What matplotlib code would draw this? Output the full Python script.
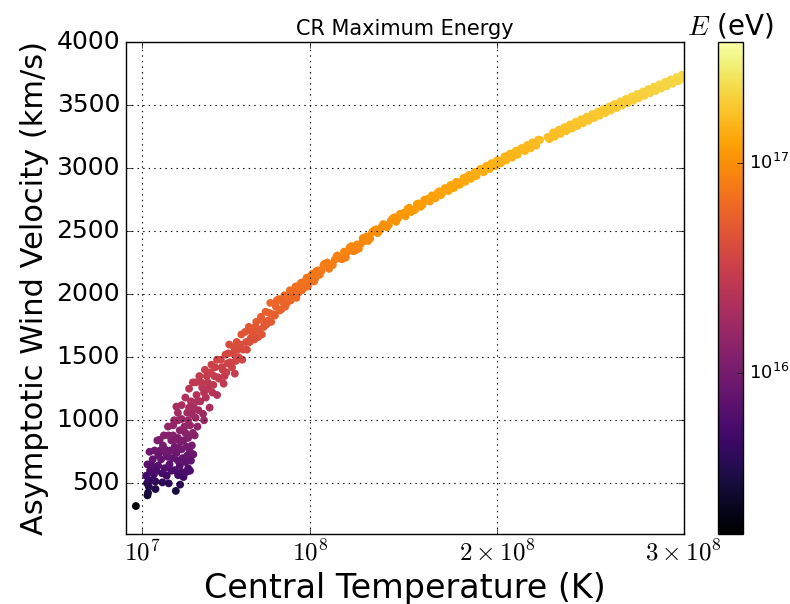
import numpy as np
import matplotlib.pyplot as plt
from matplotlib.colors import LogNorm

plt.style.use('classic')

# Central temperature (units of 1e7 K), wind velocity (km/s) and
# CR maximum energy (units of 1e16 eV) for each model run.

# low-temperature runs, broad scatter
t_low = [0.65,
         1.27, 1.30, 1.25, 1.32, 1.70, 1.70, 2.07, 2.41, 2.79, 3.02,
         1.27, 1.41, 1.61, 1.38, 1.80, 1.92, 1.84, 2.00, 2.20, 2.35,
         2.73, 2.91, 3.10, 3.20, 3.35, 3.45, 3.00, 3.15, 3.55, 1.95, 2.25,
         2.37, 2.82, 2.91, 3.00, 3.20, 3.37, 3.55, 3.73, 2.55, 2.73,
         2.82, 2.64, 2.20, 2.10, 1.55, 1.65, 2.45, 2.60, 2.90, 3.30, 3.60,
         2.90, 3.10, 3.30, 3.45,
         2.70, 2.90, 3.10, 3.10, 3.30, 3.40, 3.50, 3.55, 3.70, 3.75,
         3.85, 3.90, 3.60, 3.80, 3.95, 3.65, 4.00, 4.30, 3.45,
         1.20, 1.35, 1.45, 1.50, 1.75, 1.85, 2.05, 2.15, 2.30, 2.50,
         2.55, 2.65, 2.80, 2.95, 3.05, 3.25, 3.40, 3.50, 3.65, 3.70,
         3.85, 3.95, 2.40]
v_low = [320,
         405, 425, 500, 520, 455, 515, 508, 500, 440, 490,
         650, 600, 570, 750, 840, 845, 640, 690, 620, 710,
         605, 565, 590, 550, 590, 620, 640, 700, 600, 760, 740,
         950, 1108, 1000, 920, 840, 790, 750, 730, 840, 790,
         740, 880, 770, 800, 690, 760, 650, 700, 680, 670, 680,
         860, 770, 900, 860,
         1000, 1060, 1120, 1010, 1180, 1060, 1250, 960, 1300, 1100,
         1020, 1200, 1150, 880, 950, 1050, 1080, 1000, 1000,
         560, 470, 520, 640, 600, 720, 580, 880, 560, 760,
         600, 960, 850, 780, 830, 950, 720, 1100, 800, 900,
         1300, 1150, 880]
e_low = [0.164,
         0.262, 0.289, 0.40, 0.433, 0.331, 0.424, 0.413, 0.40, 0.310, 0.384,
         0.676, 0.576, 0.520, 0.90, 1.13, 1.14, 0.655, 0.762, 0.615, 0.807,
         0.586, 0.511, 0.557, 0.484, 0.557, 0.615, 0.655, 0.784, 0.576, 0.924, 0.876,
         1.44, 1.96, 1.60, 1.35, 1.13, 0.999, 0.90, 0.853, 1.13, 0.999,
         0.876, 1.24, 0.949, 1.02, 0.762, 0.924, 0.676, 0.784, 0.740, 0.718, 0.740,
         1.18, 0.949, 1.30, 1.18,
         1.60, 1.80, 2.01, 1.63, 2.23, 1.80, 2.50, 1.47, 2.70, 1.94,
         1.66, 2.30, 2.12, 1.24, 1.44, 1.76, 1.87, 1.60, 1.60,
         0.502, 0.353, 0.433, 0.655, 0.576, 0.829, 0.538, 1.24, 0.502, 0.924,
         0.576, 1.47, 1.16, 0.973, 1.10, 1.44, 0.829, 1.94, 1.02, 1.30,
         2.70, 2.12, 1.24]

# intermediate runs, band still fairly wide
t_mid = [4.05, 4.10, 4.20, 4.25, 4.35, 4.40, 4.50, 4.60, 4.70, 4.75,
         4.85, 5.00, 5.00, 5.10, 5.25, 5.35, 5.45, 5.50, 5.65, 5.70,
         5.85, 5.95, 6.05, 6.15, 6.30, 6.40, 6.55, 6.70, 6.80, 6.95,
         7.10, 7.20, 7.35, 7.50, 7.60, 7.75, 7.85, 8.00, 8.15, 8.30,
         8.45, 8.60, 8.75, 8.90, 9.05, 9.20, 9.35, 9.50, 9.65, 9.80,
         9.95, 10.1, 10.25,
         4.15, 4.30, 4.45, 4.55, 4.65, 4.80, 4.90, 5.05, 5.20, 5.30,
         5.40, 5.55, 5.60, 5.80, 5.90, 6.00, 6.10, 6.25, 6.35, 6.50,
         6.60, 6.75, 6.85, 7.00, 7.05, 7.25, 7.40, 7.45, 7.65, 7.80,
         7.90, 8.10, 8.20, 8.35, 8.50, 8.65, 8.80, 8.95, 9.10, 9.25,
         9.40, 9.55, 9.70, 9.85, 10.0, 10.15, 10.3]
v_mid = [1350, 1150, 1260, 1050, 1400, 1180, 1300, 1100, 1440, 1220,
         1350, 1480, 1200, 1330, 1420, 1290, 1520, 1380, 1600, 1460,
         1530, 1370, 1620, 1500, 1680, 1560, 1620, 1740, 1650, 1700,
         1780, 1660, 1820, 1740, 1860, 1790, 1930, 1840, 1900, 1960,
         1880, 1990, 1930, 2030, 1980, 2060, 2010, 2090, 2050, 2130,
         2090, 2160, 2120,
         1300, 1220, 1350, 1250, 1380, 1280, 1420, 1340, 1480, 1400,
         1350, 1450, 1530, 1420, 1580, 1470, 1560, 1600, 1480, 1700,
         1560, 1620, 1700, 1640, 1740, 1720, 1680, 1790, 1760, 1850,
         1780, 1830, 1950, 1870, 1940, 1900, 1990, 1950, 2020, 1970,
         2070, 2030, 2100, 2060, 2140, 2140, 2180]
e_mid = [2.92, 2.12, 2.54, 1.76, 3.14, 2.23, 2.70, 1.94, 3.32, 2.38,
         2.92, 3.50, 2.30, 2.83, 3.23, 2.66, 3.70, 3.05, 4.10, 3.41,
         3.75, 3.00, 4.20, 3.60, 4.52, 3.89, 4.20, 4.84, 4.36, 4.62,
         5.07, 4.41, 5.30, 4.84, 5.54, 5.13, 5.96, 5.42, 5.78, 6.15,
         5.66, 6.34, 5.96, 6.59, 6.27, 6.79, 6.46, 6.99, 6.72, 7.26,
         6.99, 7.46, 7.19,
         2.70, 2.38, 2.92, 2.50, 3.05, 2.62, 3.23, 2.87, 3.50, 3.14,
         2.92, 3.36, 3.75, 3.23, 3.99, 3.46, 3.89, 4.10, 3.50, 4.62,
         3.89, 4.20, 4.62, 4.30, 4.84, 4.73, 4.52, 5.13, 4.96, 5.48,
         5.07, 5.36, 6.08, 5.60, 6.02, 5.78, 6.34, 6.08, 6.53, 6.21,
         6.86, 6.59, 7.06, 6.79, 7.33, 7.33, 7.60]

# high-temperature runs, narrow band
t_band = [10.4, 10.6, 10.9, 11.1, 11.3, 11.6, 11.8, 12.0, 12.3, 12.5,
          12.7, 13.0, 13.2, 13.5, 13.7, 14.0, 14.2, 14.5, 14.7, 15.0,
          15.3, 15.5, 15.8, 16.0, 16.3, 16.6, 16.8, 17.1, 17.3, 17.6,
          17.9, 18.1, 18.4, 18.7, 19.0, 19.2, 19.5, 19.8, 20.1, 20.3,
          20.6, 20.9, 21.2, 21.4, 21.7, 22.0, 22.3, 22.7, 22.9, 23.2,
          23.5, 23.8, 24.1, 24.4, 24.7, 25.0, 25.3, 25.6, 25.9, 26.2,
          26.5, 26.8, 27.1, 27.4, 27.7, 28.0, 28.3, 28.6, 28.9, 29.2,
          29.5, 29.8, 30.1, 30.4,
          10.2, 10.7, 11.0, 11.4, 11.9, 12.2, 12.6, 12.9, 13.3, 13.8,
          14.3, 14.9, 15.4, 16.2]
v_band = [2188, 2184, 2250, 2226, 2271, 2281, 2336, 2336, 2340, 2394,
          2398, 2457, 2441, 2513, 2502, 2549, 2547, 2609, 2602, 2644,
          2685, 2667, 2718, 2705, 2755, 2761, 2802, 2807, 2838, 2838,
          2887, 2888, 2932, 2931, 2974, 2970, 3018, 3021, 3059, 3054,
          3101, 3099, 3141, 3141, 3183, 3179, 3221, 3245, 3244, 3285,
          3291, 3327, 3328, 3369, 3375, 3410, 3410, 3451, 3456, 3496,
          3491, 3530, 3535, 3569, 3569, 3608, 3612, 3647, 3646, 3685,
          3688, 3722, 3731, 3754,
          2100, 2230, 2200, 2300, 2290, 2380, 2360, 2420, 2490, 2530,
          2580, 2630, 2650, 2740]
e_band = [7.66, 7.63, 8.10, 7.93, 8.25, 8.32, 8.73, 8.73, 8.76, 9.17,
          9.20, 9.66, 9.53, 10.1, 10.0, 10.4, 10.4, 10.9, 10.8, 11.2,
          11.5, 11.4, 11.8, 11.7, 12.1, 12.2, 12.6, 12.6, 12.9, 12.9,
          13.3, 13.3, 13.8, 13.7, 14.2, 14.1, 14.6, 14.6, 15.0, 14.9,
          15.4, 15.4, 15.8, 15.8, 16.2, 16.2, 16.6, 16.8, 16.8, 17.3,
          17.3, 17.7, 17.7, 18.2, 18.2, 18.6, 18.6, 19.1, 19.1, 19.6,
          19.5, 19.9, 20.0, 20.4, 20.4, 20.8, 20.9, 21.3, 21.3, 21.7,
          21.8, 22.2, 22.3, 22.5,
          7.06, 7.96, 7.74, 8.46, 8.39, 9.06, 8.91, 9.37, 9.92, 10.2,
          10.7, 11.1, 11.2, 12.0]

# second pass of high-temperature runs
t_band2 = [10.5, 10.75, 11.2, 11.45, 11.7, 12.1, 12.4, 12.8, 13.1, 13.4,
           13.6, 13.9, 14.1, 14.4, 14.6, 14.8, 15.1, 15.2, 15.6, 15.7,
           15.9, 16.1, 16.4, 16.5, 16.7, 16.9, 17.0, 17.2, 17.4, 17.5,
           17.7, 17.8, 18.0, 18.2, 18.3, 18.5, 18.6, 18.8, 18.9, 19.1,
           19.3, 19.4, 19.6, 19.7, 19.9, 20.0, 20.2, 20.4, 20.5, 20.7,
           20.8, 21.0, 21.1, 21.3, 21.5, 21.6, 21.8, 21.9, 22.1, 22.2,
           22.8, 23.0, 23.1, 23.3, 23.4, 23.6, 23.7, 23.9, 24.0, 24.2,
           24.3, 24.5, 24.6, 24.8, 24.9, 25.1, 25.2, 25.4, 25.5, 25.7,
           25.8, 26.0, 26.1, 26.3, 26.4, 26.6, 26.7, 26.9, 27.0, 27.2,
           27.3, 27.5, 27.6, 27.8, 27.9, 28.1, 28.2, 28.4, 28.5, 28.7,
           28.8, 29.0, 29.1, 29.3, 29.4, 29.6, 29.7, 29.9, 30.0, 30.2,
           30.3, 30.5]
v_band2 = [2153, 2240, 2230, 2306, 2276, 2370, 2345, 2443, 2421, 2504,
           2483, 2555, 2528, 2600, 2573, 2636, 2617, 2676, 2666, 2714,
           2692, 2748, 2734, 2782, 2759, 2815, 2784, 2840, 2816, 2865,
           2841, 2889, 2865, 2921, 2889, 2945, 2913, 2968, 2936, 2992,
           2967, 3015, 2990, 3038, 3013, 3061, 3036, 3091, 3059, 3114,
           3081, 3136, 3104, 3158, 3133, 3180, 3155, 3202, 3177, 3224,
           3227, 3281, 3248, 3302, 3269, 3323, 3290, 3344, 3311, 3365,
           3332, 3386, 3353, 3406, 3373, 3427, 3394, 3447, 3414, 3467,
           3434, 3487, 3454, 3507, 3474, 3527, 3494, 3547, 3513, 3566,
           3533, 3586, 3552, 3605, 3572, 3625, 3591, 3644, 3610, 3663,
           3629, 3682, 3648, 3701, 3667, 3720, 3686, 3738, 3705, 3757,
           3723, 3755]
e_band2 = [7.42, 8.03, 7.96, 8.51, 8.29, 8.99, 8.80, 9.55, 9.38, 10.0,
           9.86, 10.4, 10.2, 10.8, 10.6, 11.1, 11.0, 11.5, 11.4, 11.8,
           11.6, 12.1, 12.0, 12.4, 12.2, 12.7, 12.4, 12.9, 12.7, 13.1,
           12.9, 13.4, 13.1, 13.7, 13.4, 13.9, 13.6, 14.1, 13.8, 14.3,
           14.1, 14.5, 14.3, 14.8, 14.5, 15.0, 14.7, 15.3, 15.0, 15.5,
           15.2, 15.7, 15.4, 16.0, 15.7, 16.2, 15.9, 16.4, 16.1, 16.6,
           16.7, 17.2, 16.9, 17.4, 17.1, 17.7, 17.3, 17.9, 17.5, 18.1,
           17.8, 18.3, 18.0, 18.6, 18.2, 18.8, 18.4, 19.0, 18.6, 19.2,
           18.9, 19.5, 19.1, 19.7, 19.3, 19.9, 19.5, 20.1, 19.7, 20.3,
           20.0, 20.6, 20.2, 20.8, 20.4, 21.0, 20.6, 21.2, 20.9, 21.5,
           21.1, 21.7, 21.3, 21.9, 21.5, 22.1, 21.7, 22.4, 22.0, 22.6,
           22.2, 22.6]

x_ticks = [1e7, 1e8, 2e8, 3e8]
x_tick_labels = [r'$10^7$', r'$10^8$', r'$2\times10^8$', r'$3\times10^8$']
y_ticks = [500, 1000, 1500, 2000, 2500, 3000, 3500, 4000]

T = np.array(t_low + t_mid + t_band + t_band2) * 1e7
V = np.array(v_low + v_mid + v_band + v_band2)
E = np.array(e_low + e_mid + e_band + e_band2) * 1e16

fig = plt.figure(figsize=(7.9, 6.04), dpi=100, facecolor='white')
ax = fig.add_axes([0.159, 0.1162, 0.7065, 0.8147])
cax = fig.add_axes([0.909, 0.1162, 0.0316, 0.8147])

sc = ax.scatter(T, V, c=E, cmap='inferno',
                norm=LogNorm(vmin=1.7e15, vmax=3.8e17),
                s=32, edgecolors='none')

ax.set_xlim(1e6, 3e8)
ax.set_ylim(100, 4000)
ax.set_xticks(x_ticks)
ax.set_xticklabels(x_tick_labels)
ax.set_yticks(y_ticks)
ax.tick_params(axis='both', labelsize=18)
ax.grid(True, color='k', linestyle=':', linewidth=0.8)

ax.set_xlabel('Central Temperature (K)', fontsize=24)
ax.set_ylabel('Asymptotic Wind Velocity (km/s)', fontsize=22)
ax.set_title('CR Maximum Energy', fontsize=15)

cbar = fig.colorbar(sc, cax=cax)
cbar.ax.minorticks_off()
cbar.ax.tick_params(labelsize=13)
cax.set_title('$E$ (eV)', fontsize=20)

fig.savefig('out.png', dpi=100, facecolor='white')
